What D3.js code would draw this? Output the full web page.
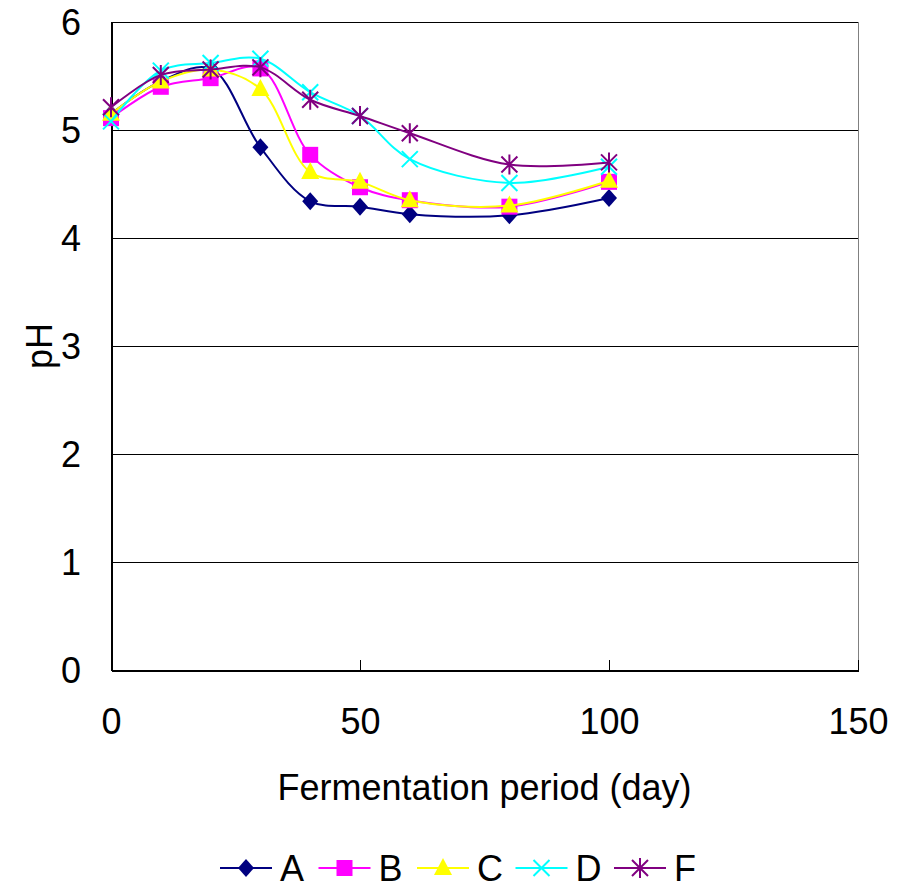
<!DOCTYPE html>
<html lang="en">
    <head>
        <meta charset="utf-8">
        <title>pH during fermentation</title>
        <script src="https://d3js.org/d3.v7.min.js" charset="utf-8"></script>
        <style>
        body {
            margin: 0;
            background: #fff;
        }
        text {
            font-family: "Liberation Sans", Arial, sans-serif;
            font-size: 36px;
            fill: #000;
        }
        </style>
    </head>
    <body>
        <div id="vis-container"></div>
        <script type="text/javascript">
        // data
        var days = [0, 10, 20, 30, 40, 50, 60, 80, 100];
        var seriesNames = ["A", "B", "C", "D", "F"];
        var phA = [5.15, 5.45, 5.57, 4.84, 4.34, 4.29, 4.22, 4.21, 4.37];
        var phB = [5.11, 5.40, 5.48, 5.57, 4.77, 4.47, 4.35, 4.29, 4.52];
        var phC = [5.15, 5.45, 5.56, 5.38, 4.61, 4.52, 4.35, 4.30, 4.53];
        var phD = [5.08, 5.55, 5.62, 5.66, 5.35, 5.13, 4.73, 4.51, 4.66];
        var phF = [5.21, 5.51, 5.56, 5.58, 5.28, 5.13, 4.97, 4.68, 4.70];
        var xTicks = [0, 50, 100, 150];
        var yTicks = [0, 1, 2, 3, 4, 5, 6];

        var allValues = [phA, phB, phC, phD, phF];
        var colors = ["#000080", "#ff00ff", "#ffff00", "#00ffff", "#800080"];
        var shapes = ["diamond", "square", "triangle", "cross", "star"];

        var margin = { top: 22, right: 40, bottom: 221, left: 111 },
            width  = 898 - margin.left - margin.right,
            height = 891 - margin.top - margin.bottom;

        var svg = d3.select("#vis-container").append("svg")
            .attr("width", 898)
            .attr("height", 891);
        var canvas = svg.append("g")
            .attr("transform", "translate(" + margin.left + "," + margin.top + ")");

        var xScale = d3.scaleLinear().domain([0, 150]).range([0, width]);
        var yScale = d3.scaleLinear().domain([0, 6]).range([height, 0]);

        // grid lines
        canvas.selectAll(".grid")
            .data(yTicks.slice(1))
            .enter().append("line")
            .attr("x1", 0).attr("x2", width)
            .attr("y1", function(d) { return yScale(d); })
            .attr("y2", function(d) { return yScale(d); })
            .attr("stroke", "#000")
            .attr("stroke-width", 1)
            .attr("shape-rendering", "crispEdges");

        // right border
        canvas.append("line")
            .attr("x1", width).attr("x2", width)
            .attr("y1", 0).attr("y2", height)
            .attr("stroke", "#808080")
            .attr("shape-rendering", "crispEdges");

        // axes
        var xAxis = d3.axisBottom(xScale).tickValues(xTicks).tickFormat(d3.format("d"))
            .tickSizeInner(-10).tickSizeOuter(0).tickPadding(38);
        var yAxis = d3.axisLeft(yScale).tickValues(yTicks).tickFormat(d3.format("d"))
            .tickSizeInner(-10).tickSizeOuter(0).tickPadding(30);

        var gx = canvas.append("g")
            .attr("transform", "translate(0," + height + ")")
            .call(xAxis);
        var gy = canvas.append("g").call(yAxis);
        [gx, gy].forEach(function(g) {
            g.selectAll("path, line").attr("stroke", "#000").attr("shape-rendering", "crispEdges");
            g.selectAll("text").style("font-size", "36px").style("font-family", "'Liberation Sans', Arial, sans-serif");
        });
        gx.select(".domain").attr("stroke-width", 2);
        gy.select(".domain").attr("stroke-width", 2);
        gy.selectAll("text").attr("dy", "0.36em");

        // axis titles
        canvas.append("text")
            .attr("x", xScale(75))
            .attr("y", height + 130)
            .attr("text-anchor", "middle")
            .text("Fermentation period (day)");
        canvas.append("text")
            .attr("transform", "translate(" + (-72) + "," + yScale(3) + ") rotate(-90)")
            .attr("text-anchor", "middle")
            .attr("dy", "0.36em")
            .text("pH");

        function markerPath(shape) {
            if (shape == "diamond") return "M0,-9L8,0L0,9L-8,0Z";
            if (shape == "square") return "M-8,-8H8V8H-8Z";
            if (shape == "triangle") return "M0,-10L9,7L-9,7Z";
            if (shape == "cross") return "M-8,-8L8,8M-8,8L8,-8";
            return "M-8,-8L8,8M-8,8L8,-8M0,-10V10";
        }
        function drawMarker(g, shape, color) {
            var filled = (shape == "diamond" || shape == "square" || shape == "triangle");
            g.append("path")
                .attr("d", markerPath(shape))
                .attr("fill", filled ? color : "none")
                .attr("stroke", color)
                .attr("stroke-width", filled ? 0 : 2);
        }

        var line = d3.line()
            .x(function(d) { return xScale(d[0]); })
            .y(function(d) { return yScale(d[1]); })
            .curve(d3.curveCatmullRom.alpha(0.5));

        allValues.forEach(function(vals, i) {
            var pts = days.map(function(d, j) { return [d, vals[j]]; });
            var g = canvas.append("g");
            g.append("path")
                .datum(pts)
                .attr("d", line)
                .attr("fill", "none")
                .attr("stroke", colors[i])
                .attr("stroke-width", 2);
            pts.forEach(function(p) {
                var m = g.append("g")
                    .attr("transform", "translate(" + xScale(p[0]) + "," + yScale(p[1]) + ")");
                drawMarker(m, shapes[i], colors[i]);
            });
        });

        // legend
        var legend = svg.append("g").attr("transform", "translate(220,868)");
        seriesNames.forEach(function(name, i) {
            var item = legend.append("g").attr("transform", "translate(" + (i * 98.5) + ",0)");
            item.append("line")
                .attr("x1", 0).attr("x2", 52)
                .attr("stroke", colors[i])
                .attr("stroke-width", 2);
            var m = item.append("g").attr("transform", "translate(26,0)");
            drawMarker(m, shapes[i], colors[i]);
            item.append("text")
                .attr("x", 60)
                .attr("dy", "0.36em")
                .text(name);
        });
        </script>
    </body>
</html>
